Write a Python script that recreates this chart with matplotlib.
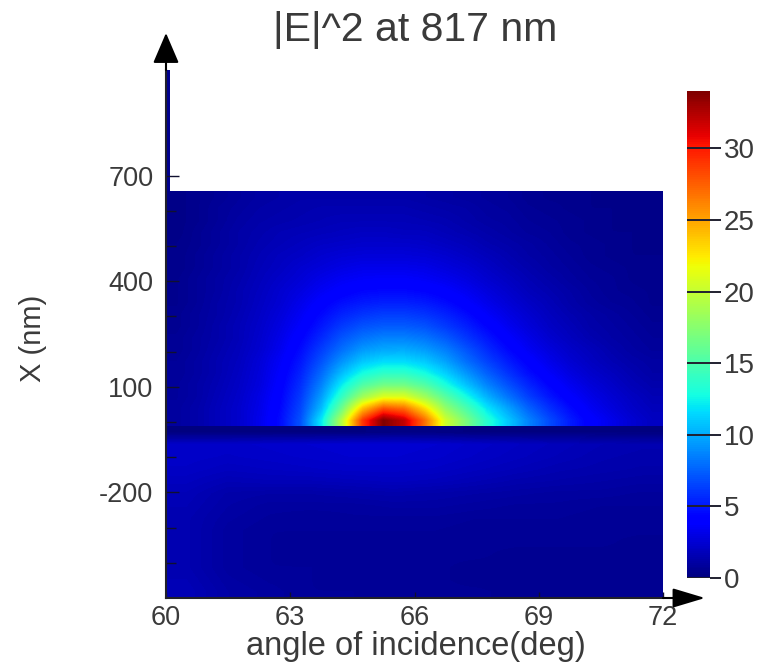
import numpy as np
import matplotlib
matplotlib.use('Agg')
import matplotlib.pyplot as plt
from matplotlib.ticker import FixedLocator

plt.rcParams['font.family'] = ['Liberation Sans', 'DejaVu Sans']
plt.rcParams['axes.unicode_minus'] = False

W, H = 758, 663

title = '|E|^2 at 817 nm'
xlabel = 'angle of incidence(deg)'
ylabel = 'X (nm)'
x_ticks = [60, 63, 66, 69, 72]
y_ticks = [700, 400, 100, -200]
y_minor = [-400, -300, -100, 0, 200, 300, 500, 600]
cbar_ticks = [0, 5, 10, 15, 20, 25, 30]
vmax = 34

# field above the interface, first row next to the interface, 0.5 deg columns
field_top = np.array([
    [1.0, 1.3, 1.8, 2.3, 3.2, 4.6, 7.0, 12.0, 19.5, 29.0, 34.0, 32.0, 27.0, 20.5, 17.0, 13.5, 11.0, 8.7, 6.8, 5.2, 4.0, 3.2, 2.5, 2.0],
    [1.0, 1.3, 1.8, 2.3, 3.1, 4.4, 6.6, 10.5, 16.5, 24.0, 28.0, 27.0, 23.0, 18.0, 15.0, 12.0, 9.8, 7.6, 5.9, 4.6, 3.5, 2.8, 2.2, 1.8],
    [0.9, 1.2, 1.7, 2.2, 3.0, 4.2, 6.2, 9.5, 14.0, 18.5, 21.0, 21.0, 18.5, 15.5, 12.8, 10.2, 8.2, 6.4, 5.0, 3.9, 3.1, 2.5, 2.0, 1.6],
    [0.9, 1.2, 1.6, 2.1, 2.8, 4.0, 5.8, 8.6, 12.2, 15.2, 16.6, 16.6, 15.3, 13.0, 10.8, 8.7, 7.0, 5.5, 4.3, 3.4, 2.7, 2.2, 1.7, 1.4],
    [0.8, 1.1, 1.5, 2.0, 2.7, 3.8, 5.4, 7.8, 10.6, 12.8, 13.8, 13.8, 12.8, 11.2, 9.3, 7.5, 6.0, 4.7, 3.7, 2.9, 2.3, 1.9, 1.5, 1.2],
    [0.8, 1.1, 1.5, 1.9, 2.6, 3.6, 5.0, 7.0, 9.2, 10.9, 11.6, 11.6, 11.0, 9.7, 8.0, 6.5, 5.2, 4.1, 3.2, 2.5, 2.0, 1.6, 1.3, 1.1],
    [0.7, 1.0, 1.4, 1.8, 2.4, 3.3, 4.6, 6.3, 8.0, 9.4, 9.9, 10.0, 9.5, 8.5, 7.1, 5.7, 4.5, 3.5, 2.8, 2.2, 1.8, 1.4, 1.1, 0.9],
    [0.7, 1.0, 1.3, 1.7, 2.3, 3.1, 4.2, 5.6, 7.1, 8.1, 8.6, 8.6, 8.2, 7.3, 6.1, 5.0, 3.9, 3.1, 2.4, 1.9, 1.5, 1.2, 1.0, 0.8],
    [0.6, 0.9, 1.3, 1.7, 2.2, 2.9, 3.8, 5.0, 6.2, 7.0, 7.3, 7.3, 7.0, 6.2, 5.3, 4.3, 3.4, 2.7, 2.1, 1.7, 1.3, 1.1, 0.9, 0.7],
    [0.6, 0.9, 1.2, 1.6, 2.1, 2.7, 3.5, 4.5, 5.4, 6.0, 6.3, 6.3, 6.0, 5.4, 4.6, 3.7, 3.0, 2.4, 1.9, 1.5, 1.2, 1.0, 0.8, 0.6],
    [0.5, 0.8, 1.2, 1.5, 2.0, 2.5, 3.2, 4.0, 4.7, 5.1, 5.3, 5.3, 5.1, 4.6, 3.9, 3.2, 2.6, 2.1, 1.7, 1.3, 1.0, 0.8, 0.7, 0.5],
    [0.5, 0.8, 1.1, 1.5, 1.9, 2.4, 2.9, 3.5, 4.0, 4.4, 4.5, 4.5, 4.3, 3.9, 3.4, 2.8, 2.3, 1.8, 1.5, 1.2, 0.9, 0.7, 0.6, 0.5],
    [0.5, 0.8, 1.1, 1.4, 1.8, 2.2, 2.6, 3.1, 3.5, 3.7, 3.8, 3.8, 3.6, 3.3, 2.9, 2.4, 2.0, 1.6, 1.3, 1.0, 0.8, 0.7, 0.5, 0.4],
    [0.4, 0.7, 1.0, 1.3, 1.7, 2.0, 2.4, 2.7, 3.0, 3.2, 3.2, 3.2, 3.1, 2.8, 2.5, 2.1, 1.7, 1.4, 1.1, 0.9, 0.7, 0.6, 0.5, 0.4],
    [0.4, 0.7, 1.0, 1.3, 1.6, 1.9, 2.1, 2.4, 2.6, 2.7, 2.7, 2.7, 2.6, 2.4, 2.1, 1.8, 1.5, 1.2, 1.0, 0.8, 0.6, 0.5, 0.4, 0.4],
    [0.4, 0.6, 0.9, 1.2, 1.5, 1.7, 1.9, 2.1, 2.2, 2.3, 2.3, 2.3, 2.2, 2.0, 1.8, 1.5, 1.3, 1.1, 0.9, 0.7, 0.6, 0.5, 0.4, 0.3],
    [0.3, 0.6, 0.9, 1.2, 1.4, 1.6, 1.7, 1.8, 1.9, 2.0, 2.0, 1.9, 1.9, 1.7, 1.5, 1.3, 1.1, 0.9, 0.8, 0.6, 0.5, 0.4, 0.4, 0.3],
    [0.3, 0.5, 0.8, 1.1, 1.3, 1.4, 1.5, 1.6, 1.7, 1.7, 1.7, 1.7, 1.6, 1.5, 1.3, 1.1, 1.0, 0.8, 0.7, 0.6, 0.5, 0.4, 0.3, 0.3],
    [0.3, 0.5, 0.8, 1.0, 1.2, 1.3, 1.4, 1.5, 1.5, 1.5, 1.5, 1.5, 1.4, 1.3, 1.2, 1.0, 0.9, 0.7, 0.6, 0.5, 0.4, 0.4, 0.3, 0.3],
    [0.3, 0.5, 0.7, 0.9, 1.1, 1.2, 1.3, 1.3, 1.3, 1.3, 1.3, 1.3, 1.2, 1.1, 1.0, 0.9, 0.8, 0.6, 0.5, 0.5, 0.4, 0.3, 0.3, 0.3],
])

# below the interface, first row is the dark band, 1 deg columns
field_bottom = np.array([
    [0.1, 0.1, 0.1, 0.1, 0.1, 0.2, 0.2, 0.1, 0.1, 0.1, 0.1, 0.1],
    [2.2, 2.2, 2.3, 2.4, 2.5, 2.5, 2.4, 2.2, 2.0, 1.8, 1.6, 1.5],
    [2.2, 2.1, 2.2, 2.3, 2.4, 2.4, 2.3, 2.1, 1.9, 1.7, 1.5, 1.4],
    [2.1, 1.9, 2.0, 2.1, 2.2, 2.2, 2.1, 1.9, 1.7, 1.5, 1.4, 1.3],
    [1.9, 1.6, 1.7, 1.7, 1.8, 1.9, 1.8, 1.6, 1.4, 1.3, 1.2, 1.1],
    [1.7, 1.3, 1.2, 1.2, 1.3, 1.4, 1.3, 1.2, 1.1, 1.0, 1.0, 0.9],
    [1.6, 1.2, 1.0, 1.0, 1.0, 1.1, 1.1, 1.0, 0.9, 0.9, 0.8, 0.8],
    [1.5, 1.1, 0.9, 0.8, 0.9, 0.9, 0.9, 0.8, 0.8, 0.8, 0.7, 0.7],
    [1.5, 1.0, 0.8, 0.8, 0.8, 0.8, 0.8, 0.7, 0.7, 0.7, 0.7, 0.7],
    [1.5, 1.0, 0.8, 0.7, 0.7, 0.7, 0.7, 0.7, 0.7, 0.7, 0.7, 0.6],
    [1.5, 1.0, 0.8, 0.7, 0.7, 0.7, 0.7, 0.7, 0.6, 0.6, 0.6, 0.6],
    [1.5, 1.0, 0.8, 0.8, 0.7, 0.7, 0.7, 0.6, 0.6, 0.6, 0.6, 0.6],
    [1.6, 1.1, 0.9, 0.8, 0.7, 0.7, 0.7, 0.6, 0.6, 0.6, 0.6, 0.6],
    [1.7, 1.2, 1.0, 0.8, 0.8, 0.7, 0.7, 0.7, 0.6, 0.6, 0.6, 0.6],
])

x_min, x_max = 60, 72
y_min, y_max = -500, 1000
interface = -12
top_edge = 655

grey = '#3a3a3a'

fig = plt.figure(figsize=(W / 100, H / 100), dpi=100)

def px_axes(l, t, r, b):
    return fig.add_axes([l / W, 1 - b / H, (r - l) / W, (b - t) / H])

ax = px_axes(166, 70, 663, 598)
ax.imshow(field_top, origin='lower', extent=[x_min, x_max, interface, top_edge],
          cmap='jet', vmin=0, vmax=vmax, aspect='auto', interpolation='bilinear')
ax.imshow(field_bottom, origin='upper', extent=[x_min, x_max, y_min, interface],
          cmap='jet', vmin=0, vmax=vmax, aspect='auto', interpolation='bilinear')
ax.set_xlim(x_min, x_max)
ax.set_ylim(y_min, y_max)

# blue strip running up the y axis
ax.fill_betweenx([top_edge, y_max], x_min, x_min + 0.09, color='#00008f', lw=0)

for s in ['top', 'right']:
    ax.spines[s].set_visible(False)
for s in ['left', 'bottom']:
    ax.spines[s].set_linewidth(1.5)
    ax.spines[s].set_color('#20202a')

ax.set_xticks(x_ticks)
ax.set_yticks(y_ticks)
ax.yaxis.set_minor_locator(FixedLocator(y_minor))
ax.tick_params(axis='both', which='major', direction='in', length=0, labelsize=19.5,
               labelcolor=grey, pad=9)
ax.tick_params(axis='y', which='major', length=9, width=1, color='#101030')
ax.tick_params(axis='y', which='minor', direction='in', length=7, width=1, color='#101030')
ax.tick_params(axis='x', which='major', length=4, width=1, color='#101030', pad=5)

fig.text(415 / W, 1 - 30 / H, title, ha='center', va='center', fontsize=29.5, color=grey)
fig.text(416 / W, 1 - 647 / H, xlabel, ha='center', va='center', fontsize=23.5, color=grey)
fig.text(33 / W, 1 - 338 / H, ylabel, ha='center', va='center', rotation=90, fontsize=21, color=grey)

# axis arrows
ax.annotate('', xy=(0, 1 + 37 / 528), xytext=(0, 1), xycoords='axes fraction',
            arrowprops=dict(arrowstyle='-|>,head_length=0.7,head_width=0.3', color='black', lw=1.5,
                            mutation_scale=27, shrinkA=0, shrinkB=0))
ax.annotate('', xy=(1 + 42 / 497, 0), xytext=(1, 0), xycoords='axes fraction',
            arrowprops=dict(arrowstyle='-|>,head_length=1.0,head_width=0.3', color='black', lw=1.5,
                            mutation_scale=20, shrinkA=0, shrinkB=0))

# colorbar
cax = px_axes(687, 91, 710, 578)
sm = plt.cm.ScalarMappable(norm=plt.Normalize(0, vmax), cmap='jet')
cb = fig.colorbar(sm, cax=cax)
cb.set_ticks(cbar_ticks)
cb.outline.set_visible(False)
cax.tick_params(length=8, width=1.4, color='#202030', labelsize=20, labelcolor=grey, pad=2)
cax.hlines(cbar_ticks, 0, 1, color='#202030', lw=1.4, transform=cax.get_yaxis_transform())

fig.savefig('out.png', dpi=100)
plt.close('all')
